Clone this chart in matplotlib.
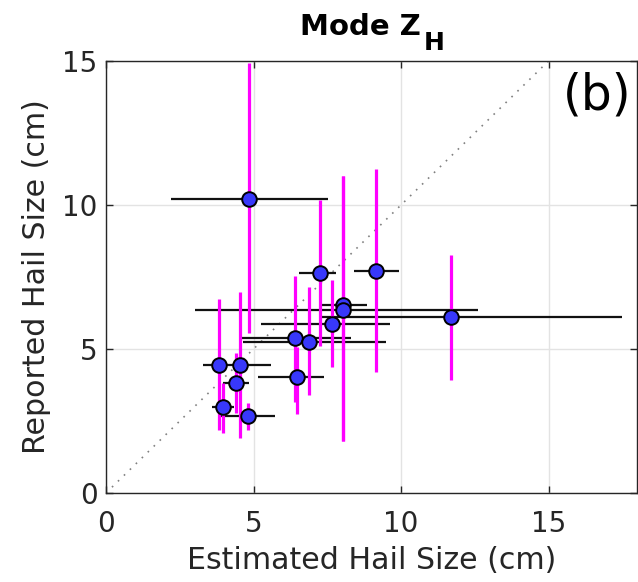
import matplotlib
matplotlib.use("Agg")
import matplotlib.pyplot as plt

# Data
est = [4.86, 7.25, 9.14, 8.05, 8.05, 7.66, 11.69, 6.42, 6.89, 6.49, 3.84, 4.54, 4.42, 3.97, 4.82]
rep = [10.2, 7.65, 7.72, 6.53, 6.35, 5.87, 6.10, 5.37, 5.25, 4.04, 4.44, 4.44, 3.83, 2.97, 2.67]
est_lo = [2.2, 6.54, 8.42, 7.29, 3.0, 5.25, 7.29, 4.52, 4.63, 5.16, 3.28, 4.35, 3.95, 3.59, 3.9]
est_hi = [7.54, 7.8, 9.94, 8.84, 12.6, 9.64, 17.5, 8.3, 9.49, 7.4, 4.33, 5.59, 4.86, 4.33, 5.73]
rep_lo = [5.56, 5.1, 4.2, 1.8, 1.8, 4.36, 3.92, 3.17, 3.4, 2.73, 2.19, 1.92, 2.77, 2.09, 2.19]
rep_hi = [14.93, 10.17, 11.24, 11.0, 11.0, 7.4, 8.26, 7.55, 7.14, 5.08, 6.74, 6.99, 4.85, 3.81, 3.11]

ticks = [0, 5, 10, 15]
tick_labels = ["0", "5", "10", "15"]

plt.rcParams['font.family'] = ['DejaVu Sans']
fig = plt.figure(figsize=(6.38, 5.82), dpi=100)
W, H = 638, 582
ax = fig.add_axes([106/W, 89/H, 531/W, 432/H])

axc = '#262626'
ax.grid(True, color='#e3e3e3', linewidth=1.0, zorder=0)
ax.set_axisbelow(True)

ax.plot([0, 15], [0, 15], linestyle=(0, (1, 4)), color='#808080', linewidth=1.2, zorder=1)

ax.hlines(rep, est_lo, est_hi, colors='#111111', linewidth=1.6, zorder=2)
ax.vlines(est, rep_lo, rep_hi, colors='#ff00ff', linewidth=2.3, zorder=3)
ax.plot(est, rep, linestyle='none', marker='o', markersize=10.5,
        markerfacecolor='#3838fa', markeredgecolor='black', markeredgewidth=1.4, zorder=4)

ax.set_xlim(0, 18)
ax.set_ylim(0, 15)
ax.set_xticks(ticks)
ax.set_xticklabels(tick_labels)
ax.set_yticks(ticks)
ax.set_yticklabels(tick_labels)
ax.tick_params(direction='in', length=5, width=1, colors=axc, labelsize=20,
               top=True, right=True)
ax.tick_params(axis='x', pad=12)
ax.tick_params(axis='y', pad=6)
for s in ax.spines.values():
    s.set_color(axc)
    s.set_linewidth(1.0)

ax.set_xlabel("Estimated Hail Size (cm)", fontsize=21.6, color=axc, labelpad=6)
ax.set_ylabel("Reported Hail Size (cm)", fontsize=21.6, color=axc, labelpad=8)

# Title: "Mode Z" with a large subscript "H"
fig.text(421/W, 1 - 35/H, "Mode Z", fontsize=21, fontweight='bold',
         ha='right', va='baseline', color='black')
fig.text(424/W, 1 - 50.5/H, "H", fontsize=18, fontweight='bold',
         ha='left', va='baseline', color='black')

ax.text(0.925, 0.92, "(b)", transform=ax.transAxes, fontsize=35,
        ha='center', va='center', color='black')

fig.savefig("out.png", dpi=100)
